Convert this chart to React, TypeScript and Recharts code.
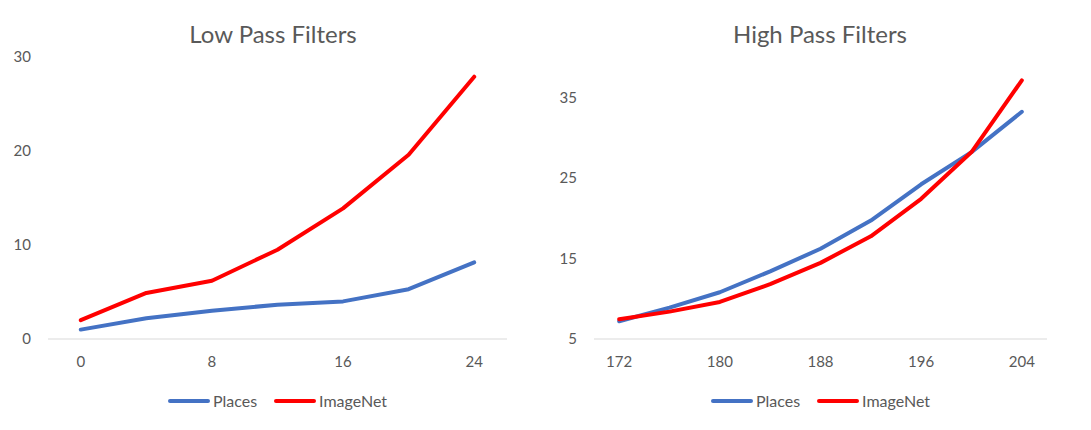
import React from "react";
import { LineChart, Line, XAxis, YAxis, Legend } from "recharts";

// low pass filter cut-off and scores
const lowCutoff = [0, 4, 8, 12, 16, 20, 24];
const lowPlaces = [1.0, 2.2, 3.0, 3.65, 4.0, 5.3, 8.15];
const lowImageNet = [2.0, 4.9, 6.2, 9.5, 13.9, 19.6, 27.9];
const lowXTicks = [0, 8, 16, 24];
const lowYTicks = [0, 10, 20, 30];

// high pass filter cut-off and scores
const highCutoff = [172, 176, 180, 184, 188, 192, 196, 200, 204];
const highPlaces = [7.2, 8.9, 10.8, 13.4, 16.2, 19.7, 24.2, 28.2, 33.2];
const highImageNet = [7.45, 8.4, 9.6, 11.8, 14.45, 17.75, 22.4, 28.2, 37.1];
const highXTicks = [172, 180, 188, 196, 204];
const highYTicks = [5, 15, 25, 35];

const seriesNames = ["Places", "ImageNet"];
const seriesColors = ["#4472C4", "#FF0000"];

const FONT = "Lato, 'Open Sans', sans-serif";
const TEXT = "#595959";

function buildRows(xs: number[], a: number[], b: number[]) {
  return xs.map((x, i) => ({ x, places: a[i], imagenet: b[i] }));
}

function LegendRow() {
  return (
    <div
      style={{
        display: "flex",
        justifyContent: "center",
        alignItems: "center",
        fontFamily: FONT,
        fontSize: 16,
        color: TEXT,
        gap: 17,
      }}
    >
      {seriesNames.map((name, i) => (
        <div key={name} style={{ display: "flex", alignItems: "center" }}>
          <div
            style={{
              width: 42,
              height: 4,
              borderRadius: 2,
              background: seriesColors[i],
              marginRight: 3,
            }}
          />
          <span>{name}</span>
        </div>
      ))}
    </div>
  );
}

interface PanelProps {
  title: string;
  titleCenter: number;
  width: number;
  rows: { x: number; places: number; imagenet: number }[];
  xDomain: [number, number];
  xTicks: number[];
  yDomain: [number, number];
  yTicks: number[];
  yWidth: number;
  rightMargin: number;
}

function Panel(props: PanelProps) {
  const { title, titleCenter, width, rows, xDomain, xTicks, yDomain, yTicks, yWidth, rightMargin } = props;
  const plotWidth = width - rightMargin - yWidth;
  return (
    <div style={{ position: "relative", width, height: 430 }}>
      <div
        style={{
          position: "absolute",
          top: 22,
          left: titleCenter - 200,
          width: 400,
          textAlign: "center",
          fontFamily: FONT,
          fontSize: 24,
          lineHeight: "24px",
          color: TEXT,
        }}
      >
        {title}
      </div>
      <LineChart
        width={width}
        height={430}
        data={rows}
        margin={{ top: 57, right: rightMargin, left: 0, bottom: 0 }}
      >
        <XAxis
          dataKey="x"
          type="number"
          domain={xDomain}
          ticks={xTicks}
          height={91}
          tickLine={false}
          tickSize={0}
          tickMargin={17}
          axisLine={{ stroke: "#D9D9D9", strokeWidth: 1 }}
          tick={{ fill: TEXT, fontSize: 15, fontFamily: FONT }}
        />
        <YAxis
          type="number"
          domain={yDomain}
          ticks={yTicks}
          width={yWidth}
          tickLine={false}
          axisLine={false}
          tickSize={0}
          tickMargin={17}
          tick={{ fill: TEXT, fontSize: 15, fontFamily: FONT }}
        />
        <Legend
          verticalAlign="middle"
          layout="horizontal"
          wrapperStyle={{ top: 391, left: yWidth, width: plotWidth }}
          content={() => <LegendRow />}
        />
        <Line
          dataKey="places"
          name="Places"
          stroke={seriesColors[0]}
          strokeWidth={4}
          dot={false}
          type="linear"
          strokeLinejoin="round"
          strokeLinecap="round"
          isAnimationActive={false}
        />
        <Line
          dataKey="imagenet"
          name="ImageNet"
          stroke={seriesColors[1]}
          strokeWidth={4}
          dot={false}
          type="linear"
          strokeLinejoin="round"
          strokeLinecap="round"
          isAnimationActive={false}
        />
      </LineChart>
    </div>
  );
}

export default function App() {
  return (
    <div
      style={{
        position: "absolute",
        left: 0,
        top: 0,
        width: 1091,
        height: 430,
        display: "flex",
        background: "#fff",
      }}
    >
      <Panel
        title="Low Pass Filters"
        titleCenter={273}
        width={545}
        rows={buildRows(lowCutoff, lowPlaces, lowImageNet)}
        xDomain={[-2, 26]}
        xTicks={lowXTicks}
        yDomain={[0, 30]}
        yTicks={lowYTicks}
        yWidth={48}
        rightMargin={38}
      />
      <Panel
        title="High Pass Filters"
        titleCenter={275}
        width={546}
        rows={buildRows(highCutoff, highPlaces, highImageNet)}
        xDomain={[170, 206]}
        xTicks={highXTicks}
        yDomain={[5, 40]}
        yTicks={highYTicks}
        yWidth={49}
        rightMargin={44}
      />
    </div>
  );
}
